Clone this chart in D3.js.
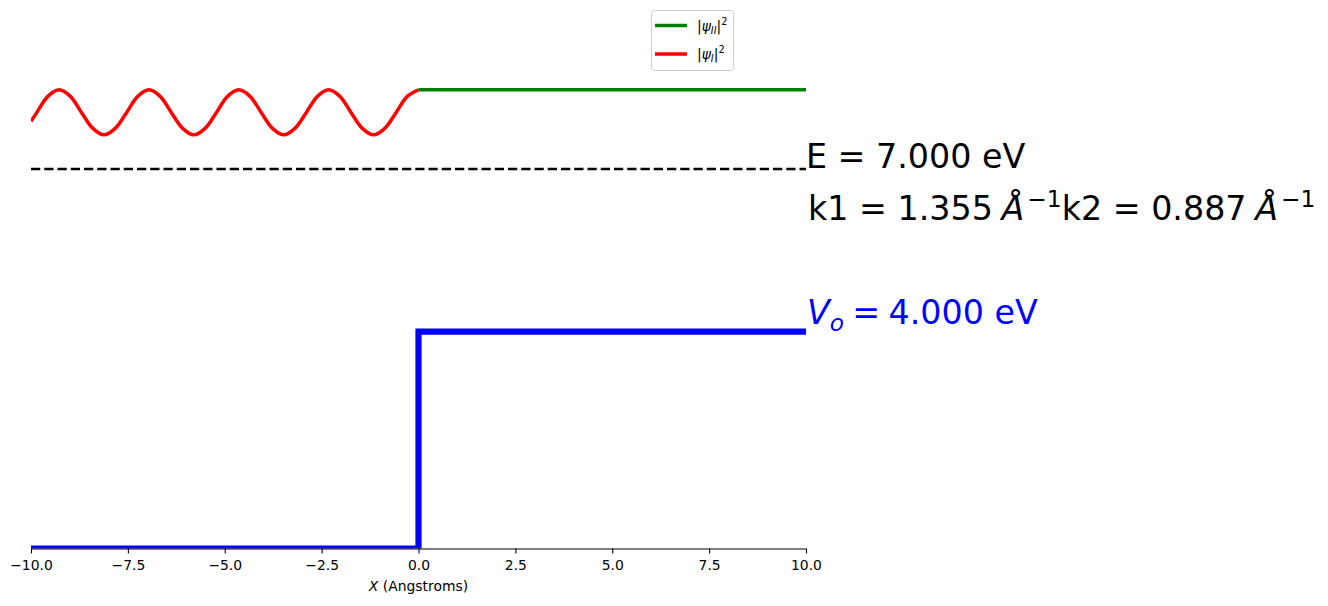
<!DOCTYPE html>
<html>
<head>
<meta charset="utf-8">
<script src="https://cdn.jsdelivr.net/npm/d3@7"></script>
<style>
  body { margin: 0; background: #fff; }
  svg { font-family: "DejaVu Sans", sans-serif; }
</style>
</head>
<body>
<div id="chart"></div>
<script>
// energies (eV) and wave numbers shown in the labels
var energy = 7.0, barrier = 4.0, k1 = 1.355, k2 = 0.887;

var xTicks = [-10, -7.5, -5, -2.5, 0, 2.5, 5, 7.5, 10];

// potential step
var potX = [-10, 0, 0, 10];
var potV = [0, 0, 4, 4];

// |psi_I|^2 (plotted on top of E)
var psiIX = [-10, -9.853, -9.564, -9.274, -8.984, -8.694, -8.404, -8.115, -7.825, -7.535, -7.245,
  -6.955, -6.666, -6.376, -6.086, -5.796, -5.506, -5.217, -4.927, -4.637, -4.347, -4.057,
  -3.768, -3.478, -3.188, -2.898, -2.608, -2.318, -2.029, -1.739, -1.449, -1.159, -0.869,
  -0.580, -0.290, 0];
var psiIVal = [0.88, 1.04, 1.34, 1.46, 1.34, 1.04, 0.75, 0.63, 0.75, 1.04, 1.34,
  1.46, 1.34, 1.04, 0.75, 0.63, 0.75, 1.04, 1.34, 1.46, 1.34, 1.04,
  0.75, 0.63, 0.75, 1.04, 1.34, 1.46, 1.34, 1.04, 0.75, 0.63, 0.75,
  1.04, 1.34, 1.46];

// |psi_II|^2, flat in region II
var psiIIX = [0, 10];
var psiIIVal = [1.46, 1.46];

var W = 1328, H = 606;
var svg = d3.select('#chart').append('svg').attr('width', W).attr('height', H);

var x = d3.scaleLinear().domain([-10, 10]).range([31, 806]);
var y = d3.scaleLinear().domain([0, 9]).range([548.5, 60.6]);

svg.append('defs').append('clipPath').attr('id', 'axclip')
  .append('rect').attr('x', x(-10)).attr('y', 0)
  .attr('width', x(10) - x(-10)).attr('height', y(0));

var plot = svg.append('g').attr('clip-path', 'url(#axclip)');

var line = d3.line().x(function(d) { return x(d[0]); }).y(function(d) { return y(d[1]); });

// potential
plot.append('path')
  .datum(d3.zip(potX, potV))
  .attr('d', line)
  .attr('fill', 'none').attr('stroke', '#0000ff').attr('stroke-width', 6.2)
  .attr('stroke-linejoin', 'miter');

// energy level
plot.append('path')
  .datum([[-10, energy], [10, energy]])
  .attr('d', line)
  .attr('fill', 'none').attr('stroke', '#000').attr('stroke-width', 2.5)
  .attr('stroke-dasharray', '9.25,4');

// wave functions
plot.append('path')
  .datum(d3.zip(psiIIX, psiIIVal.map(function(v) { return v + energy; })))
  .attr('d', line)
  .attr('fill', 'none').attr('stroke', '#008000').attr('stroke-width', 3.5);

plot.append('path')
  .datum(d3.zip(psiIX, psiIVal.map(function(v) { return v + energy; })))
  .attr('d', line.curve(d3.curveCatmullRom.alpha(0.5)))
  .attr('fill', 'none').attr('stroke', '#ff0000').attr('stroke-width', 3.5);

// x axis
var axis = svg.append('g').attr('transform', 'translate(0,' + y(0) + ')')
  .call(d3.axisBottom(x).tickValues(xTicks).tickFormat(d3.format('.1f'))
    .tickSize(4.9).tickSizeOuter(0).tickPadding(6.5));
axis.select('.domain').attr('stroke-width', 1.1);
axis.selectAll('.tick line').attr('stroke-width', 1.1);
axis.selectAll('.tick text').attr('font-size', '13.9px').attr('fill', '#000')
  .attr('font-family', 'DejaVu Sans');

var xl = svg.append('text').attr('x', x(0)).attr('y', 591).attr('text-anchor', 'middle')
  .attr('font-size', '13.9px');
xl.append('tspan').attr('font-style', 'italic').text('X');
xl.append('tspan').text(' (Angstroms)');

// labels to the right
var fs = 33.3;
svg.append('text').attr('x', 806).attr('y', 168).attr('font-size', fs + 'px')
  .text('E = ' + energy.toFixed(3) + ' eV');

var kt = svg.append('text').attr('x', 808).attr('y', 220).attr('font-size', fs + 'px');
[k1, k2].forEach(function(k, i) {
  kt.append('tspan').attr('dy', i ? 13 : 0).text('k' + (i + 1) + ' = ' + k.toFixed(3) + '\u2009');
  kt.append('tspan').attr('font-style', 'italic').attr('dx', 2).text('\u00c5');
  kt.append('tspan').attr('font-size', (fs * 0.7) + 'px').attr('dx', 3).attr('dy', -13).text('\u22121');
});

var vt = svg.append('text').attr('x', 807).attr('y', 324).attr('font-size', fs + 'px')
  .attr('fill', '#0000ff');
vt.append('tspan').attr('font-style', 'italic').text('V');
vt.append('tspan').attr('font-style', 'italic').attr('font-size', (fs * 0.7) + 'px').attr('dy', 7).text('o');
vt.append('tspan').attr('dy', -7).text('\u2005=\u2005' + barrier.toFixed(3) + ' eV');

// legend
var lg = svg.append('g');
lg.append('rect').attr('x', 651.5).attr('y', 10.5).attr('width', 82).attr('height', 60)
  .attr('rx', 3).attr('fill', '#fff').attr('fill-opacity', 0.8)
  .attr('stroke', '#cccccc').attr('stroke-width', 1);
var legendItems = [{ color: '#008000', sub: 'II', yy: 25.5 }, { color: '#ff0000', sub: 'I', yy: 54 }];
legendItems.forEach(function(it) {
  lg.append('line').attr('x1', 655).attr('x2', 687).attr('y1', it.yy).attr('y2', it.yy)
    .attr('stroke', it.color).attr('stroke-width', 3.5);
  var t = lg.append('text').attr('x', 697).attr('y', it.yy + 5).attr('font-size', '13.9px');
  t.append('tspan').text('|');
  t.append('tspan').attr('font-style', 'italic').text('\u03c8');
  t.append('tspan').attr('font-style', 'italic').attr('font-size', '9.7px').attr('dy', 3).text(it.sub);
  t.append('tspan').attr('dy', -3).text('|');
  t.append('tspan').attr('font-size', '9.7px').attr('dy', -6).text('2');
});
</script>
</body>
</html>
